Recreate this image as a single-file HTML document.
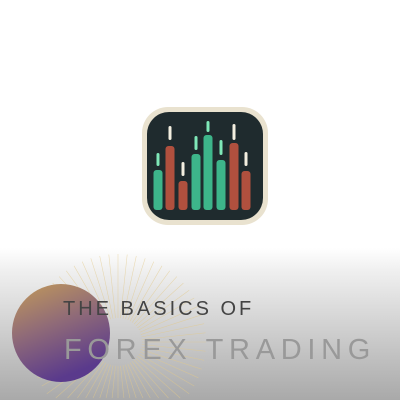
<!DOCTYPE html>
<html><head><meta charset="utf-8"><style>
html,body{margin:0;padding:0;width:400px;height:400px;overflow:hidden;background:#fff}
svg{display:block;overflow:hidden}
</style></head><body>
<svg width="400" height="400" viewBox="0 0 400 400">
<defs>
<linearGradient id="bg" x1="0" y1="0" x2="0" y2="1">
<stop offset="0" stop-color="#ffffff"/><stop offset="0.62" stop-color="#ffffff"/><stop offset="0.68" stop-color="#efefef"/><stop offset="1" stop-color="#a9a9a9"/></linearGradient>
<linearGradient id="orb" x1="0" y1="0" x2="0.4" y2="1">
<stop offset="0" stop-color="#c29a5a"/><stop offset="0.5" stop-color="#8f6a78"/><stop offset="1" stop-color="#5a3a8c"/></linearGradient>
</defs>
<rect width="400" height="400" fill="url(#bg)"/>
<g id="rays" stroke="#e2c98a" stroke-width="0.6" opacity="0.6"></g>
<circle cx="61" cy="333" r="49" fill="url(#orb)"/>
<rect x="142" y="107" width="126" height="118" rx="26" fill="#e9e2cf"/>
<rect x="147" y="112" width="116" height="108" rx="22" fill="#1f2b2e"/>
<g id="candles"></g>
<text x="63" y="315" font-family="Liberation Sans, sans-serif" font-size="20" letter-spacing="3" fill="#444">THE BASICS OF</text>
<text x="64" y="359" font-family="Liberation Sans, sans-serif" font-size="29" letter-spacing="5.7" fill="#999">FOREX TRADING</text>
</svg>
<script>
const candleX=[158,170,183,196,208,221,234,246];
const bodyTop=[170,146,181,154,135,160,143,171];
const wickTop=[153,126,162,136,121,140,124,152];
const wickBottom=[166,140,176,150,132,155,140,166];
const up=[true,false,false,true,true,true,false,false];
const ns="http://www.w3.org/2000/svg";
const g=document.getElementById('candles');
for(let i=0;i<candleX.length;i++){
 const b=document.createElementNS(ns,'rect');
 b.setAttribute('x',candleX[i]-4.5);b.setAttribute('y',bodyTop[i]);
 b.setAttribute('width',9);b.setAttribute('height',210-bodyTop[i]);b.setAttribute('rx',3);
 b.setAttribute('fill',up[i]?'#3db58a':'#b0503e');
 
 
 g.appendChild(b);
 const w=document.createElementNS(ns,'rect');
 w.setAttribute('x',candleX[i]-1.5);w.setAttribute('y',wickTop[i]);
 w.setAttribute('width',3);w.setAttribute('height',wickBottom[i]-wickTop[i]);w.setAttribute('rx',1.5);
 w.setAttribute('fill',up[i]?'#7fe8b8':'#f3efe0');
 
 
 g.appendChild(w);
}
const rg=document.getElementById('rays');
for(let a=0;a<360;a+=6){
 const r=a*Math.PI/180,cx=118,cy=342;
 let len=88;
 const s=Math.sin(r);
 if(s>0.01) len=Math.min(len,(398-cy)/s);
 const l=document.createElementNS(ns,'line');
 l.setAttribute('x1',cx+Math.cos(r)*24);l.setAttribute('y1',cy+s*24);
 l.setAttribute('x2',cx+Math.cos(r)*len);l.setAttribute('y2',cy+s*len);
 
 
 rg.appendChild(l);
}
</script>
</body></html>
